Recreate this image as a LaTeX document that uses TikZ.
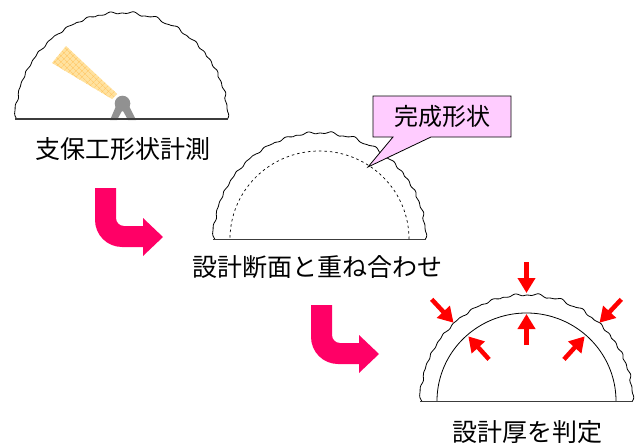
\documentclass[tikz,border=0pt]{standalone}
\usepackage{fontspec}
\newfontfamily\jp{Noto Sans CJK JP}
\usetikzlibrary{arrows.meta,shapes.callouts,patterns.meta,calc}
\definecolor{bendpink}{RGB}{255,0,102}
\definecolor{calloutpink}{RGB}{255,204,255}
\definecolor{devgray}{RGB}{145,145,145}
\definecolor{fanfill}{RGB}{255,226,160}
\definecolor{fanline}{RGB}{255,196,95}
\definecolor{groundgray}{RGB}{60,60,60}
\tikzset{
  archline/.style={black,line width=0.8pt,line join=round},
  groundline/.style={groundgray,line width=1pt},
  captiontext/.style={font=\jp\fontsize{25}{30}\selectfont,inner sep=0pt,anchor=center},
  pressure/.style={draw=red,line width=4.5pt,-{Triangle[width=17pt,length=15pt]}},
  % irregular rock surface around a half section
  rockarch/.pic={
    \draw[archline] plot[variable=\t,domain=0:180,samples=541]
      ({(105.3+1.5*abs(sin(14*\t+30*sin(3*\t)))+0.8*sin(31*\t+40)+0.5*sin(57*\t+10))*cos(\t)},
       {-(105.3+1.5*abs(sin(14*\t+30*sin(3*\t)))+0.8*sin(31*\t+40)+0.5*sin(57*\t+10))*sin(\t)});
  },
  % bent step arrow between stages
  bendarrow/.pic={
    \fill[bendpink] (0,0) -- (21,0) -- (21,30)
      .. controls (21,34.4) and (24.6,38) .. (29,38) -- (48,38) -- (48,30)
      -- (68,49) -- (48,68) -- (48,59) -- (27,59)
      .. controls (12.1,59) and (0,46.9) .. (0,32) -- cycle;
  }
}
\begin{document}
\begin{tikzpicture}[x=1pt,y=-1pt]
\useasboundingbox (0,0) rectangle (637,444);

% ---- stage 1: measuring the support shape
\coordinate (c1) at (121.5,119);
\pic at (c1) {rockarch};
\fill[fanfill] (52,63) -- (66,46) -- (117,94) -- (112,99) -- cycle;
\fill[pattern={Lines[angle=45,distance=4pt,line width=0.6pt]},pattern color=fanline]
  (52,63) -- (66,46) -- (117,94) -- (112,99) -- cycle;
\fill[pattern={Lines[angle=-45,distance=4pt,line width=0.6pt]},pattern color=fanline]
  (52,63) -- (66,46) -- (117,94) -- (112,99) -- cycle;
\fill[devgray] (110,120) -- (116,106) -- (129,106) -- (136,120) -- (128,120)
  -- (122.5,110) -- (117,120) -- cycle;
\fill[devgray] (122.5,103.5) circle[radius=7.8];
\coordinate (g1l) at (15,119);
\coordinate (g1r) at (228,119);
\draw[groundline,line width=1.3pt] (g1l) -- (g1r);
\node[captiontext] (t1) at (123,149) {支保工形状計測};

\pic at (95,188) {bendarrow};

% ---- stage 2: overlay with the design section
\coordinate (c2) at (319.5,239);
\pic at (c2) {rockarch};
\draw[shift={(c2)},black,line width=0.7pt,dash pattern=on 2.5pt off 3pt]
  plot[variable=\t,domain=0:180,samples=121] ({89.5*cos(\t)},{-88*sin(\t)});
\coordinate (g2l) at (213,239);
\coordinate (g2r) at (426,239);
\draw[groundline] (g2l) -- (g2r);
\coordinate (ptr) at (368,167);
\node[rectangle callout,draw=black,fill=calloutpink,line width=0.8pt,
  minimum width=138pt,minimum height=41pt,inner sep=0pt,
  callout absolute pointer={(ptr)},callout pointer width=38pt,
  font=\jp\fontsize{24}{28}\selectfont] (shape) at (442,116.5) {完成形状};
\node[captiontext] (t2) at (317,267.5) {設計断面と重ね合わせ};

\pic at (311,305) {bendarrow};

% ---- stage 3: judging the design thickness
\coordinate (c3) at (526.5,401);
\pic at (c3) {rockarch};
\draw[shift={(c3)},black,line width=0.8pt]
  plot[variable=\t,domain=0:180,samples=121] ({89.5*cos(\t)},{-88*sin(\t)});
\coordinate (g3l) at (420,401);
\coordinate (g3r) at (633,401);
\draw[groundline] (g3l) -- (g3r);

\coordinate (oas) at ($(c3)+(-133:139)$);
\coordinate (oae) at ($(c3)+(-133:107)$);
\coordinate (obs) at ($(c3)+(-90:139)$);
\coordinate (obe) at ($(c3)+(-90:108)$);
\coordinate (ocs) at ($(c3)+(-47:139)$);
\coordinate (oce) at ($(c3)+(-47:107)$);
\coordinate (ias) at ($(c3)+(-132:56)$);
\coordinate (iae) at ($(c3)+(-132:87)$);
\coordinate (ibs) at ($(c3)+(-90:56)$);
\coordinate (ibe) at ($(c3)+(-90:87)$);
\coordinate (ics) at ($(c3)+(-48:56)$);
\coordinate (ice) at ($(c3)+(-48:87)$);
\draw[pressure] (oas) -- (oae);
\draw[pressure] (obs) -- (obe);
\draw[pressure] (ocs) -- (oce);
\draw[pressure] (ias) -- (iae);
\draw[pressure] (ibs) -- (ibe);
\draw[pressure] (ics) -- (ice);
\node[captiontext] (t3) at (527,432) {設計厚を判定};
\end{tikzpicture}
\end{document}
